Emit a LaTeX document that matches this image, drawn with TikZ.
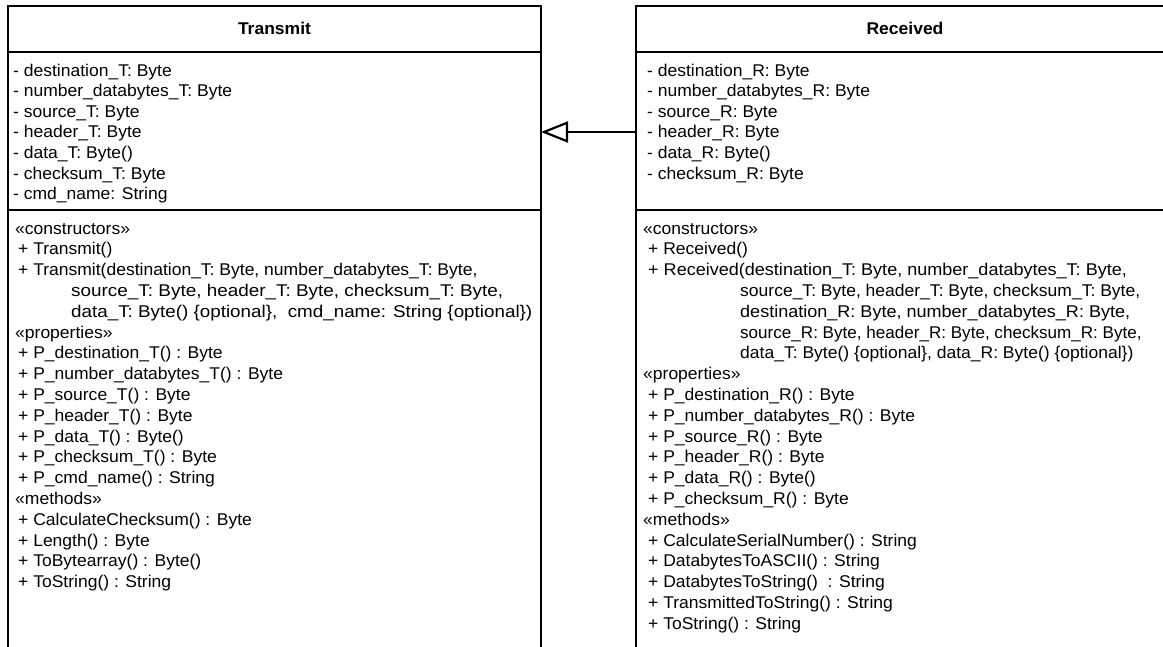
\documentclass[tikz,border=0pt]{standalone}
\usepackage{graphicx}
\usepackage{fontspec}
\setmainfont{Liberation Sans}[FakeStretch=1.03]
\usetikzlibrary{arrows.meta}
\tikzset{
  x=1pt, y=-1pt,
  frame/.style={line width=2.4pt, line cap=rect},
  txt/.style={anchor=base west, inner sep=0pt, font=\fontsize{17}{20}\selectfont},
  ttl/.style={anchor=base, inner sep=0pt, font=\fontsize{17}{20}\selectfont\bfseries},
  inherit/.style={line width=2.2pt, -{Triangle[open, length=27pt, width=21pt, line width=2.2pt]}}
}
% horizontally widened text line
\newcommand{\wide}[2]{\scalebox{#1}[1]{#2}}
\begin{document}
\begin{tikzpicture}
\useasboundingbox (0,0) rectangle (1163,646);
\clip (0,0) rectangle (1163,646);
\fill[white] (0,0) rectangle (1163,646);

% ---- class Transmit ----
\draw[frame] (8,660) -- (8,6) -- (541,6) -- (541,660);
\draw[frame] (8,52) -- (541,52);
\draw[frame] (8,210) -- (541,210);
\coordinate (transE) at (541,132);
\node[ttl] (tTitle) at (274.5,34) {Transmit};

\foreach \t [count=\i] in {
  {- destination\_T: Byte},
  {- number\_databytes\_T: Byte},
  {- source\_T: Byte},
  {- header\_T: Byte},
  {- data\_T: Byte()},
  {- checksum\_T: Byte},
  {- cmd\_name: String}}
  \node[txt] (tAttr\i) at (13,{76+20.6*(\i-1)}) {\t};

\node[txt] (tOps0) at (15,234) {«constructors»};
\node[txt] (tOps1) at (18,{234+20.8*1}) {+ Transmit()};
\node[txt] (tOps2) at (18,{234+20.8*2}) {+ Transmit(destination\_T: Byte, number\_databytes\_T: Byte,};
\node[txt] (tOps3) at (71,{234+20.8*3}) {\wide{1.08}{source\_T: Byte, header\_T: Byte, checksum\_T: Byte,}};
\node[txt] (tOps4) at (71,{234+20.8*4}) {\wide{1.075}{data\_T: Byte() \{optional\},\ \ cmd\_name: String \{optional\})}};
\node[txt] (tOps5) at (15,{234+20.8*5}) {«properties»};
\foreach \t [count=\i from 6] in {
  {+ P\_destination\_T() : Byte},
  {+ P\_number\_databytes\_T() : Byte},
  {+ P\_source\_T() : Byte},
  {+ P\_header\_T() : Byte},
  {+ P\_data\_T() : Byte()},
  {+ P\_checksum\_T() : Byte},
  {+ P\_cmd\_name() : String}}
  \node[txt] (tOps\i) at (18,{234+20.8*\i}) {\t};
\node[txt] (tOps13) at (15,{234+20.8*13}) {«methods»};
\foreach \t [count=\i from 14] in {
  {+ CalculateChecksum() : Byte},
  {+ Length() : Byte},
  {+ ToBytearray() : Byte()},
  {+ ToString() : String}}
  \node[txt] (tOps\i) at (18,{234+20.8*\i}) {\t};

% ---- class Received ----
\draw[frame] (636,660) -- (636,6) -- (1180,6);
\draw[frame] (636,52) -- (1180,52);
\draw[frame] (636,210) -- (1180,210);
\coordinate (recvW) at (636,132);
\node[ttl] (rTitle) at (905,34) {Received};

\foreach \t [count=\i] in {
  {- destination\_R: Byte},
  {- number\_databytes\_R: Byte},
  {- source\_R: Byte},
  {- header\_R: Byte},
  {- data\_R: Byte()},
  {- checksum\_R: Byte}}
  \node[txt] (rAttr\i) at (647,{76+20.6*(\i-1)}) {\t};

\node[txt] (rOps0) at (643,234) {«constructors»};
\node[txt] (rOps1) at (648,{234+20.8*1}) {+ Received()};
\node[txt] (rOps2) at (648,{234+20.8*2}) {\wide{1.03}{+ Received(destination\_T: Byte, number\_databytes\_T: Byte,}};
\node[txt] (rOps3) at (740,{234+20.8*3}) {source\_T: Byte, header\_T: Byte, checksum\_T: Byte,};
\node[txt] (rOps4) at (740,{234+20.8*4}) {\wide{1.03}{destination\_R: Byte, number\_databytes\_R: Byte,}};
\node[txt] (rOps5) at (740,{234+20.8*5}) {\wide{0.975}{source\_R: Byte, header\_R: Byte, checksum\_R: Byte,}};
\node[txt] (rOps6) at (740,{234+20.8*6}) {data\_T: Byte() \{optional\}, data\_R: Byte() \{optional\})};
\node[txt] (rOps7) at (643,{234+20.8*7}) {«properties»};
\foreach \t [count=\i from 8] in {
  {+ P\_destination\_R() : Byte},
  {+ P\_number\_databytes\_R() : Byte},
  {+ P\_source\_R() : Byte},
  {+ P\_header\_R() : Byte},
  {+ P\_data\_R() : Byte()},
  {+ P\_checksum\_R() : Byte}}
  \node[txt] (rOps\i) at (648,{234+20.8*\i}) {\t};
\node[txt] (rOps14) at (643,{234+20.8*14}) {«methods»};
\foreach \t [count=\i from 15] in {
  {+ CalculateSerialNumber() : String},
  {+ DatabytesToASCII() : String},
  {+ DatabytesToString()\ \ : String},
  {+ TransmittedToString() : String},
  {+ ToString() : String}}
  \node[txt] (rOps\i) at (648,{234+20.8*\i}) {\t};

% ---- generalisation: Received -> Transmit ----
\draw[inherit] (recvW) -- (transE);
\end{tikzpicture}
\end{document}
